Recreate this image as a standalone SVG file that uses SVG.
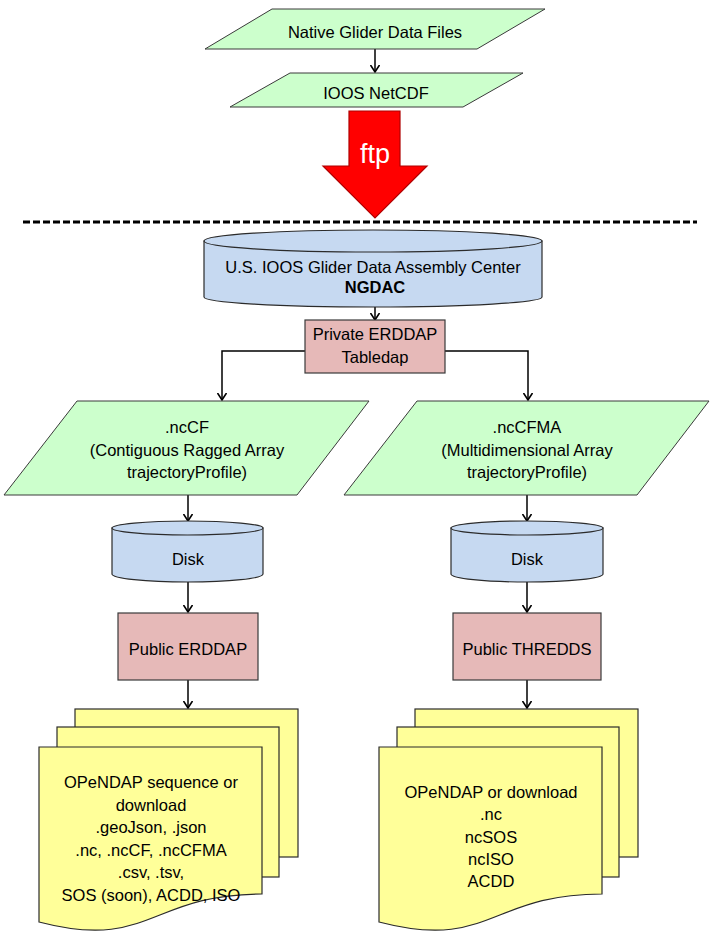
<svg xmlns="http://www.w3.org/2000/svg" width="720" height="932" viewBox="0 0 720 932">
<defs>
<marker id="arr" viewBox="0 0 8 10" refX="7.5" refY="5" markerWidth="8" markerHeight="10" markerUnits="userSpaceOnUse" orient="auto">
<path d="M0.5,0.5 L7.5,5 L0.5,9.5" fill="none" stroke="#000" stroke-width="1.6"/>
</marker>
</defs>
<style>
text{font-family:"Liberation Sans",Arial,sans-serif;font-size:16.5px;fill:#000;text-anchor:middle}
.g{fill:#CCFFCC;stroke:#3a3a3a;stroke-width:1}
.b{fill:#C6D9F1;stroke:#2b2b2b;stroke-width:1.2}
.p{fill:#E6B9B8;stroke:#3a3a3a;stroke-width:1.2}
.y{fill:#FFFF99;stroke:#2b2b2b;stroke-width:1.2}
.c{fill:none;stroke:#000;stroke-width:1.5;marker-end:url(#arr)}
</style>
<rect width="720" height="932" fill="#fff"/>

<g id="connectors">
<line class="c" x1="375" y1="49" x2="375" y2="72"/>
<line class="c" x1="375" y1="307" x2="375" y2="320"/>
<polyline class="c" points="305,351 222,351 222,400"/>
<polyline class="c" points="445,351 528,351 528,400"/>
<line class="c" x1="188" y1="495" x2="188" y2="521"/>
<line class="c" x1="188" y1="582" x2="188" y2="612"/>
<line class="c" x1="188" y1="680" x2="188" y2="708"/>
<line class="c" x1="527" y1="495" x2="527" y2="521"/>
<line class="c" x1="527" y1="582" x2="527" y2="612"/>
<line class="c" x1="527" y1="680" x2="527" y2="708"/>
</g>

<g id="native">
<polygon class="g" points="272,9 545,9 477,49 205,49"/>
<text x="375" y="38">Native Glider Data Files</text>
</g>

<g id="netcdf">
<polygon class="g" points="290,73 523,73 463,107 230,107"/>
<text x="376" y="99">IOOS NetCDF</text>
</g>

<g id="ftp">
<polygon points="349,111 400,111 400,166 427,166 375,218 323,166 349,166" fill="#FF0000" stroke="#B00000" stroke-width="1.2"/>
<text x="375" y="163" style="fill:#fff;font-size:27px">ftp</text>
</g>

<line id="divider" x1="23" y1="222" x2="697" y2="222" stroke="#000" stroke-width="3" stroke-dasharray="7,3"/>

<g id="ngdac">
<path class="b" d="M204,241 V297 A169,10 0 0 0 542,297 V241 Z"/>
<ellipse class="b" cx="373" cy="241" rx="169" ry="11"/>
<text x="373" y="273">U.S. IOOS Glider Data Assembly Center</text>
<text x="375" y="293" style="font-weight:bold">NGDAC</text>
</g>

<g id="private">
<rect class="p" x="305" y="320" width="140" height="53"/>
<text x="375" y="340">Private ERDDAP</text>
<text x="375" y="363">Tabledap</text>
</g>

<g id="nccf">
<polygon class="g" points="77,401 369,401 297,495 4,495"/>
<text x="187" y="433">.ncCF</text>
<text x="187" y="456">(Contiguous Ragged Array</text>
<text x="187" y="478">trajectoryProfile)</text>
</g>

<g id="nccfma">
<polygon class="g" points="417,401 709,401 637,495 344,495"/>
<text x="527" y="433">.ncCFMA</text>
<text x="527" y="456">(Multidimensional Array</text>
<text x="527" y="478">trajectoryProfile)</text>
</g>

<g id="disk-left">
<path class="b" d="M112,528 V574 A75.5,8 0 0 0 263,574 V528 Z"/>
<ellipse class="b" cx="187.5" cy="528" rx="75.5" ry="7"/>
<text x="188" y="565">Disk</text>
</g>

<g id="disk-right">
<path class="b" d="M451,528 V574 A76,8 0 0 0 603,574 V528 Z"/>
<ellipse class="b" cx="527" cy="528" rx="76" ry="7"/>
<text x="527" y="565">Disk</text>
</g>

<g id="public-erddap">
<rect class="p" x="118" y="613" width="140" height="67"/>
<text x="188" y="655">Public ERDDAP</text>
</g>

<g id="public-thredds">
<rect class="p" x="453" y="613" width="148" height="67"/>
<text x="527" y="655">Public THREDDS</text>
</g>

<g id="docs-left">
<rect class="y" x="75" y="709" width="223" height="148"/>
<rect class="y" x="57" y="727" width="222" height="150"/>
<path class="y" d="M39,747 H262 V894 C150,894 150,951 39,922 Z"/>
<text x="151" y="788">OPeNDAP sequence or</text>
<text x="151" y="810.5">download</text>
<text x="151" y="833">.geoJson, .json</text>
<text x="151" y="855.5">.nc, .ncCF, .ncCFMA</text>
<text x="151" y="878">.csv, .tsv,</text>
<text x="151" y="900.5">SOS (soon), ACDD, ISO</text>
</g>

<g id="docs-right">
<rect class="y" x="415" y="709" width="223" height="148"/>
<rect class="y" x="397" y="727" width="222" height="150"/>
<path class="y" d="M379,747 H602 V894 C490,894 490,951 379,922 Z"/>
<text x="491" y="798">OPeNDAP or download</text>
<text x="491" y="820">.nc</text>
<text x="491" y="843">ncSOS</text>
<text x="491" y="865">ncISO</text>
<text x="491" y="887">ACDD</text>
</g>
</svg>
